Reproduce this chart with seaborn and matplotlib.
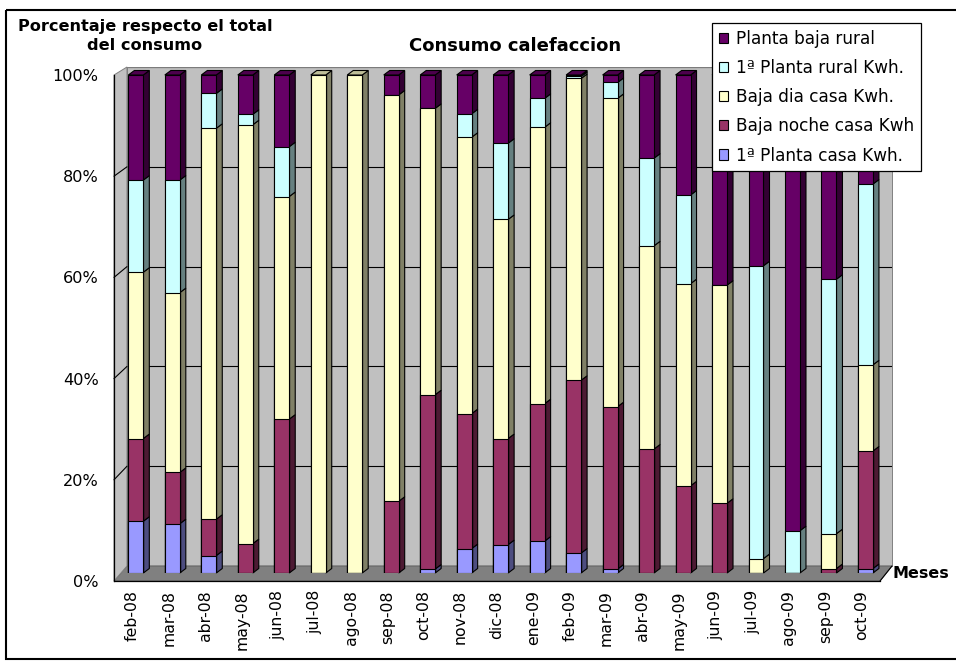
import numpy as np
import matplotlib
matplotlib.use("Agg")
import matplotlib.pyplot as plt
import matplotlib.transforms as mtransforms
from matplotlib.patches import Polygon, Rectangle, Patch
from matplotlib.lines import Line2D
import seaborn as sns

# ---- data: share of total consumption per month (%) ----
months = ["feb-08", "mar-08", "abr-08", "may-08", "jun-08", "jul-08", "ago-08",
          "sep-08", "oct-08", "nov-08", "dic-08", "ene-09", "feb-09", "mar-09",
          "abr-09", "may-09", "jun-09", "jul-09", "ago-09", "sep-09", "oct-09"]
planta1_casa = [10.4, 9.9, 3.5, 0.0, 0.0, 0.0, 0.0, 0.0, 0.8, 4.9, 5.7,
                6.4, 4.0, 0.8, 0.0, 0.0, 0.0, 0.0, 0.0, 0.0, 0.9]
baja_noche = [16.6, 10.3, 7.3, 5.9, 30.9, 0.0, 0.0, 14.4, 35.0, 27.1, 21.3,
              27.6, 34.7, 32.6, 24.9, 17.5, 14.0, 0.0, 0.0, 0.9, 23.6]
baja_dia = [33.4, 36.1, 78.5, 84.1, 44.7, 100.0, 100.0, 81.6, 57.5, 55.5, 44.0,
            55.5, 60.6, 61.9, 40.8, 40.6, 43.8, 2.9, 0.0, 7.0, 17.3]
planta1_rural = [18.5, 22.6, 7.0, 2.1, 10.0, 0.0, 0.0, 0.0, 0.0, 4.7, 15.3,
                 5.8, 0.4, 3.2, 17.6, 17.8, 0.0, 58.8, 8.5, 51.1, 36.3]
baja_rural = [21.1, 21.1, 3.7, 7.9, 14.4, 0.0, 0.0, 4.0, 6.7, 7.8, 13.7,
              4.7, 0.3, 1.5, 16.7, 24.1, 42.2, 38.3, 91.5, 41.0, 21.9]

series_names = ["1ª Planta casa Kwh.", "Baja noche casa Kwh", "Baja dia casa Kwh.",
                "1ª Planta rural Kwh.", "Planta baja rural"]
y_ticks = [0, 20, 40, 60, 80, 100]

# colours: front face, right side face, top face
front_colors = ["#9999FF", "#993366", "#FFFFCC", "#CCFFFF", "#660066"]
side_colors = ["#4D4D80", "#4D1A33", "#808066", "#668080", "#330033"]
top_colors = ["#7373BF", "#73264D", "#BFBF99", "#99BFBF", "#4D004D"]

values = np.array([planta1_casa, baja_noche, baja_dia, planta1_rural, baja_rural])
values = values / values.sum(axis=0) * 100.0
cum = np.cumsum(values, axis=0)
n = len(months)

W, H = 956, 662
sns.set_theme(style="white")
plt.rcParams["font.family"] = ["DejaVu Sans"]
plt.rcParams["text.color"] = "black"
plt.rcParams["xtick.color"] = "black"
plt.rcParams["ytick.color"] = "black"
plt.rcParams["axes.labelcolor"] = "black"

fig = plt.figure(figsize=(W / 100, H / 100), dpi=100)
fig.patch.set_facecolor("white")
pix = mtransforms.Affine2D().scale(1 / W, -1 / H).translate(0, 1) + fig.transFigure


def box(l, t, r, b):
    return [l / W, 1 - b / H, (r - l) / W, (b - t) / H]


# back wall with gridlines
ax_wall = fig.add_axes(box(127, 67, 892, 566), zorder=0)
ax_wall.set_facecolor("#C0C0C0")
ax_wall.set_xlim(0, 1)
ax_wall.set_ylim(0, 100)
ax_wall.set_yticks(y_ticks)
ax_wall.set_xticks([])
ax_wall.grid(True, axis="y", color="black", linewidth=0.8)
ax_wall.tick_params(left=False, bottom=False, labelleft=False, labelbottom=False)
for s in ax_wall.spines.values():
    s.set_color("#808080")
    s.set_linewidth(0.7)

# front axis plane (ticks and labels)
ax_f = fig.add_axes(box(114, 75, 880, 581), zorder=2)
ax_f.patch.set_alpha(0)
ax_f.set_xlim(-0.5, n - 0.5)
ax_f.set_ylim(0, 100)

# floor and left side wall
floor = Polygon([(114, 581), (880, 581), (892, 566), (127, 566)], closed=True,
                facecolor="#808080", edgecolor="#606060", linewidth=0.7,
                transform=pix, zorder=0.5)
fig.add_artist(floor)
side_wall = Polygon([(114, 581), (114, 75), (127, 67), (127, 566)], closed=True,
                    facecolor="#C0C0C0", edgecolor="#808080", linewidth=0.7,
                    transform=pix, zorder=0.5)
fig.add_artist(side_wall)

# gridline connectors across the side wall, and the floor's right edge
for v in y_ticks[1:-1]:
    p0 = ax_f.transData.transform((-0.5, v))
    p1 = ax_wall.transData.transform((0, v))
    fig.add_artist(Line2D([p0[0], p1[0]], [p0[1], p1[1]], color="black",
                          linewidth=0.8, transform=mtransforms.IdentityTransform(),
                          zorder=0.6))
p0 = ax_f.transData.transform((n - 0.5, 0))
p1 = ax_wall.transData.transform((1, 0))
fig.add_artist(Line2D([p0[0], p1[0]], [p0[1], p1[1]], color="black", linewidth=0.8,
                      transform=mtransforms.IdentityTransform(), zorder=0.6))

# bars
ax = fig.add_axes(box(117.6, 75, 883.7, 573), zorder=1)
ax.patch.set_alpha(0)
bar_w = 0.41
for k in reversed(range(len(series_names))):
    sns.barplot(x=months, y=cum[k], order=months, color=front_colors[k],
                saturation=1, width=bar_w, edgecolor="black", linewidth=0.8,
                errorbar=None, ax=ax, zorder=3)
ax.set_xlim(-0.5, n - 0.5)
ax.set_ylim(0, 100)
ax.axis("off")

# 3D depth of the bars: right side faces and top face
px_per_x = (883.7 - 117.6) / n
px_per_y = (573 - 75) / 100
ddx = 6.0 / px_per_x
ddy = 4.5 / px_per_y
for i in range(n):
    xr = i + bar_w / 2
    xl = i - bar_w / 2
    prev = 0.0
    top_k = 0
    for k in range(len(series_names)):
        y1 = cum[k, i]
        if values[k, i] > 0.05:
            ax.add_patch(Polygon([(xr, prev), (xr + ddx, prev + ddy),
                                  (xr + ddx, y1 + ddy), (xr, y1)], closed=True,
                                 facecolor=side_colors[k], edgecolor="black",
                                 linewidth=0.8, clip_on=False, zorder=2))
            top_k = k
        prev = y1
    ytop = cum[-1, i]
    ax.add_patch(Polygon([(xl, ytop), (xl + ddx, ytop + ddy), (xr + ddx, ytop + ddy),
                          (xr, ytop)], closed=True, facecolor=top_colors[top_k],
                         edgecolor="black", linewidth=0.8, clip_on=False, zorder=2))

# axes styling
for side in ["top", "right"]:
    ax_f.spines[side].set_visible(False)
for side in ["left", "bottom"]:
    ax_f.spines[side].set_color("black")
    ax_f.spines[side].set_linewidth(0.9)
ax_f.set_yticks(y_ticks)
ax_f.set_yticklabels([f"{v}%" for v in y_ticks])
ax_f.tick_params(axis="y", direction="out", length=7.2, width=0.9, pad=4.0,
                 labelsize=11.6, colors="black")
ax_f.set_xticks(np.arange(-0.5, n, 1.0))
ax_f.set_xticklabels([])
ax_f.set_xticks(np.arange(n), minor=True)
ax_f.set_xticklabels(months, minor=True, rotation=90)
ax_f.tick_params(axis="x", which="major", direction="out", length=4.5, width=0.9,
                 colors="black")
ax_f.tick_params(axis="x", which="minor", length=0, pad=6.5, labelsize=11.3,
                 colors="black")

# texts
fig.text(145 / W, 1 - 36 / H, "Porcentaje respecto el total\ndel consumo",
         ha="center", va="center", fontweight="bold", fontsize=11.6,
         linespacing=1.25, color="black")
fig.text(515 / W, 1 - 46 / H, "Consumo calefaccion", ha="center", va="center",
         fontweight="bold", fontsize=13.0, color="black")
fig.text(892 / W, 1 - 574 / H, "Meses", ha="left", va="center",
         fontweight="bold", fontsize=11.5, color="black")

# legend, topmost series first
handles = [Patch(facecolor=front_colors[k], edgecolor="black", linewidth=0.8)
           for k in reversed(range(len(series_names)))]
labels = [series_names[k] for k in reversed(range(len(series_names)))]
leg = fig.legend(handles, labels, loc="upper left",
                 bbox_to_anchor=(712 / W, 1 - 23 / H), frameon=True,
                 fancybox=False, edgecolor="black", framealpha=1,
                 borderpad=0.4, labelspacing=0.66, handlelength=0.55,
                 handleheight=0.55, handletextpad=0.45, borderaxespad=0,
                 fontsize=12.2, labelcolor="black")
leg.get_frame().set_linewidth(0.9)
leg.set_zorder(10)

# outer chart border
fig.add_artist(Rectangle((6, 10), 960, 649, fill=False, edgecolor="black",
                         linewidth=1.5, transform=pix, zorder=20))

fig.savefig("out.png", dpi=100)
